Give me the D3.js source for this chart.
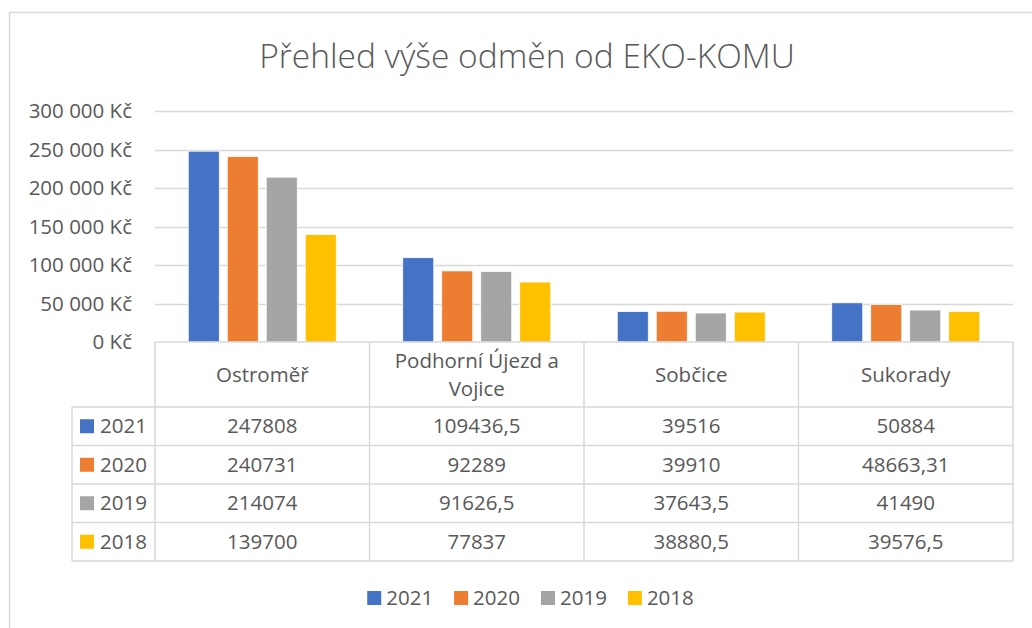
<!DOCTYPE html>
<html>
<head>
<meta charset="utf-8">
<script src="https://cdn.jsdelivr.net/npm/d3@7"></script>
<style>
  body { margin: 0; background: #fff; }
  svg text { font-family: "Open Sans", sans-serif; fill: #595959; }
</style>
</head>
<body>
<svg id="chart" width="1032" height="628"></svg>
<script>
const categories = ["Ostroměř", "Podhorní Újezd a Vojice", "Sobčice", "Sukorady"];
const years = ["2021", "2020", "2019", "2018"];
const values2021 = [247808, 109436.5, 39516, 50884];
const values2020 = [240731, 92289, 39910, 48663.31];
const values2019 = [214074, 91626.5, 37643.5, 41490];
const values2018 = [139700, 77837, 38880.5, 39576.5];
const colors = ["#4472C4", "#ED7D31", "#A5A5A5", "#FFC000"];
const yTicks = [0, 50000, 100000, 150000, 200000, 250000, 300000];

const series = [values2021, values2020, values2019, values2018].map((vals, i) => ({
  year: years[i], color: colors[i], values: vals
}));

const svg = d3.select("#chart");
const gridColor = "#D9D9D9";
const fs = "20.5px";

// outer chart border (only top & left visible)
svg.append("path")
  .attr("d", "M9.5,628 V12.5 H1032")
  .attr("fill", "none")
  .attr("stroke", gridColor)
  .attr("stroke-width", 1.5);

// title
svg.append("text")
  .attr("x", 527)
  .attr("y", 68)
  .attr("text-anchor", "middle")
  .style("font-size", "33.5px")
  .style("font-weight", 300)
  .text("Přehled výše odměn od EKO-KOMU");

const plot = {left: 155, right: 1013, top: 111, bottom: 342};

const x = d3.scaleBand().domain(categories).range([plot.left, plot.right]);
const x1 = d3.scaleBand().domain(years).range([0, x.bandwidth()])
  .paddingInner(0.205).paddingOuter(0.853);
const y = d3.scaleLinear().domain([0, 300000]).range([plot.bottom, plot.top]);

// gridlines
svg.append("g").selectAll("line")
  .data(yTicks.filter(d => d > 0))
  .join("line")
  .attr("x1", plot.left).attr("x2", plot.right)
  .attr("y1", d => Math.round(y(d)) + 0.5).attr("y2", d => Math.round(y(d)) + 0.5)
  .attr("stroke", gridColor).attr("stroke-width", 1.5);

// y axis labels
const fmt = d => d3.format(",")(d).replace(/,/g, " ") + " Kč";
svg.append("g").selectAll("text")
  .data(yTicks)
  .join("text")
  .attr("x", 132)
  .attr("y", d => y(d))
  .attr("dy", "0.35em")
  .attr("text-anchor", "end")
  .style("font-size", fs)
  .text(fmt);

// bars
const groups = svg.append("g").selectAll("g")
  .data(series)
  .join("g")
  .attr("fill", d => d.color);

groups.selectAll("rect")
  .data(s => s.values.map((v, i) => ({cat: categories[i], year: s.year, v})))
  .join("rect")
  .attr("x", d => x(d.cat) + x1(d.year))
  .attr("y", d => y(d.v))
  .attr("width", x1.bandwidth())
  .attr("height", d => y(0) - y(d.v))
  .attr("stroke", "#fff")
  .attr("stroke-width", 0.75);

// data table
const headerTop = plot.bottom, headerBottom = 407;
const rows = d3.scaleBand().domain(years).range([headerBottom, 561]);
const legendLeft = 72;
const table = svg.append("g");
const lineAttrs = sel => sel.attr("stroke", gridColor).attr("stroke-width", 1.5).attr("fill", "none");

// horizontal lines
table.append("line").call(lineAttrs)
  .attr("x1", plot.left).attr("x2", plot.right).attr("y1", headerTop).attr("y2", headerTop);
years.forEach(yr => {
  table.append("line").call(lineAttrs)
    .attr("x1", legendLeft).attr("x2", plot.right)
    .attr("y1", rows(yr)).attr("y2", rows(yr));
});
table.append("line").call(lineAttrs)
  .attr("x1", legendLeft).attr("x2", plot.right)
  .attr("y1", rows.range()[1]).attr("y2", rows.range()[1]);
// vertical lines
table.append("line").call(lineAttrs)
  .attr("x1", legendLeft).attr("x2", legendLeft).attr("y1", headerBottom).attr("y2", rows.range()[1]);
categories.forEach(c => {
  table.append("line").call(lineAttrs)
    .attr("x1", x(c)).attr("x2", x(c)).attr("y1", headerTop).attr("y2", rows.range()[1]);
});
table.append("line").call(lineAttrs)
  .attr("x1", plot.right).attr("x2", plot.right).attr("y1", headerTop).attr("y2", rows.range()[1]);

// header labels with wrapping
categories.forEach(c => {
  const t = table.append("text")
    .attr("x", x(c) + x.bandwidth() / 2)
    .attr("text-anchor", "middle")
    .style("font-size", fs);
  const words = c.split(" ");
  const lines = [];
  let line = [];
  const probe = t.append("tspan");
  words.forEach(w => {
    line.push(w);
    probe.text(line.join(" "));
    if (probe.node().getComputedTextLength() > x.bandwidth() - 20 && line.length > 1) {
      line.pop();
      lines.push(line.join(" "));
      line = [w];
    }
  });
  lines.push(line.join(" "));
  probe.remove();
  const lh = 28;
  const cy = (headerTop + headerBottom) / 2;
  lines.forEach((l, i) => {
    t.append("tspan")
      .attr("x", x(c) + x.bandwidth() / 2)
      .attr("y", cy + (i - (lines.length - 1) / 2) * lh)
      .attr("dy", "0.35em")
      .text(l);
  });
});

// row legend keys + values
series.forEach(s => {
  const cy = rows(s.year) + rows.bandwidth() / 2;
  table.append("rect")
    .attr("x", 80).attr("y", cy - 7)
    .attr("width", 14).attr("height", 14)
    .attr("fill", s.color);
  table.append("text")
    .attr("x", 100).attr("y", cy).attr("dy", "0.35em")
    .style("font-size", fs)
    .text(s.year);
  s.values.forEach((v, i) => {
    table.append("text")
      .attr("x", x(categories[i]) + x.bandwidth() / 2)
      .attr("y", cy).attr("dy", "0.35em")
      .attr("text-anchor", "middle")
      .style("font-size", fs)
      .text(String(v).replace(".", ","));
  });
});

// bottom legend
const legend = svg.append("g");
const items = legend.selectAll("g").data(series).join("g");
items.append("rect").attr("width", 14).attr("height", 14).attr("y", -7).attr("fill", d => d.color);
items.append("text").attr("x", 19).attr("dy", "0.35em").style("font-size", fs).text(d => d.year);
let offset = 0;
items.each(function() {
  const w = this.getBBox().width;
  d3.select(this).attr("transform", `translate(${offset},0)`);
  offset += w + 21;
});
const totalW = offset - 21;
legend.attr("transform", `translate(${530.5 - totalW / 2},598)`);
</script>
</body>
</html>
